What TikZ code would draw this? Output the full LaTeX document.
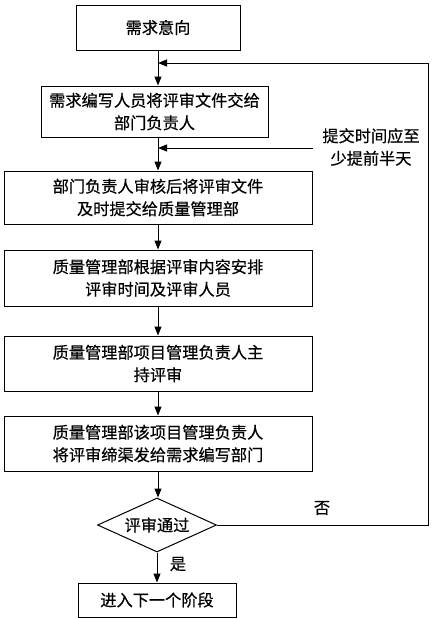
\documentclass[tikz,border=0pt]{standalone}
\usepackage{fontspec}
\setmainfont{Noto Sans CJK SC}[FakeBold=0.5,AutoFakeBold=0.5]
\usetikzlibrary{arrows.meta,shapes.geometric}
\begin{document}
\begin{tikzpicture}[x=1pt,y=-1pt,
  every node/.style={font=\fontsize{16.2pt}{22.5pt}\selectfont},
  box/.style={draw,line width=1pt,rectangle,inner sep=0pt,align=center},
  dia/.style={draw,line width=1pt,diamond,aspect=2.2,inner sep=0pt},
  conn/.style={line width=1pt,-{Triangle[length=9pt,width=7pt]}},
  lab/.style={inner sep=0pt}]
\useasboundingbox (0,0) rectangle (434,619);
\fill[white] (0,0) rectangle (434,619);
\node[box,minimum width=164pt,minimum height=45pt] (b1) at (158,27.5) {需求意向};
\node[box,minimum width=227pt,minimum height=51pt] (b2) at (154.5,111.5) {需求编写人员将评审文件交给\\部门负责人};
\node[box,minimum width=308pt,minimum height=53pt] (b3) at (158,197.5) {部门负责人审核后将评审文件\\及时提交给质量管理部};
\node[box,minimum width=308pt,minimum height=56pt] (b4) at (158,278) {质量管理部根据评审内容安排\\评审时间及评审人员};
\node[box,minimum width=308pt,minimum height=55pt] (b5) at (158,363.5) {质量管理部项目管理负责人主\\持评审};
\node[box,minimum width=308pt,minimum height=55pt] (b6) at (158,443.5) {质量管理部该项目管理负责人\\将评审缔渠发给需求编写部门};
\node[dia,minimum width=119pt,minimum height=54pt] (d) at (157,525) {评审通过};
\node[box,minimum width=158pt,minimum height=34pt] (b7) at (157,600) {进入下一个阶段};
\node[lab,align=center] (note) at (371,147) {提交时间应至\\少提前半天};
\node[lab] (no) at (322,508) {否};
\node[lab] (yes) at (178,564) {是};
\coordinate (fb1) at (428,525);
\coordinate (fb2) at (428,63);
\coordinate (fbend) at (158,63);
\coordinate (nstart) at (313,148);
\coordinate (nend) at (158,148);
\draw[conn] (b1.south) -- (b1.south |- b2.north);
\draw[conn] (b1.south |- b2.south) -- (b3.north);
\draw[conn] (b3.south) -- (b4.north);
\draw[conn] (b4.south) -- (b5.north);
\draw[conn] (b5.south) -- (b6.north);
\draw[conn] (b6.south) -- (b6.south |- d.north);
\draw[conn] (d.south) -- (d.south |- b7.north);
\draw[conn] (d.east) -- (fb1) -- (fb2) -- (fbend);
\draw[conn] (nstart) -- (nend);
\end{tikzpicture}
\end{document}
